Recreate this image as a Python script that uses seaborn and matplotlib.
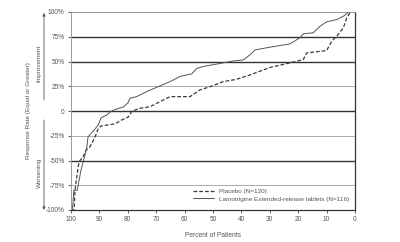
import matplotlib
matplotlib.use("Agg")
import matplotlib.pyplot as plt
import seaborn as sns
import pandas as pd

# ---- data ----
lam_x = [99.5, 99.0, 97.8, 96.5, 95.6, 94.5, 94.0, 92.7, 91.5, 90.4, 89.4, 87.4, 85.7, 84.0,
         81.6, 80.0, 79.2, 76.9, 73.4, 69.8, 65.1, 62.2, 61.6, 57.5, 55.7, 53.4, 47.5, 43.0,
         39.3, 37.0, 35.2, 29.9, 22.9, 19.4, 18.2, 14.7, 12.3, 10.0, 6.4, 4.1, 2.4]
lam_y = [-100, -80, -80, -60, -50, -38, -26, -22, -18, -14, -7, -4, 0, 2,
         4, 8, 13, 14.5, 19.5, 24, 29.7, 34, 35, 37.5, 43, 45, 48, 50.5,
         51.6, 56.7, 61.7, 64.5, 67.8, 74, 78, 79, 85.7, 90, 92.4, 95.8, 99.5]

pla_x = [98.9, 98.6, 97.4, 96.8, 95.7, 94.8, 93.3, 91.5, 90.3, 89.2, 86.9, 84.5, 82.1, 79.8,
         78.5, 75.7, 72.2, 68.7, 65.1, 58.1, 54.6, 51.0, 46.4, 41.7, 37.0, 29.9, 22.9, 18.2,
         17.0, 10.0, 8.2, 6.4, 4.1, 2.9, 1.8]
pla_y = [-100, -80, -55, -50, -46, -40, -36, -26, -17, -15, -14, -13, -9, -6,
         0, 2.7, 4.3, 9.4, 14.5, 14.5, 21.3, 24.6, 29.7, 32, 36.4, 44, 48.6, 52,
         58.7, 61, 70.5, 75.6, 84, 94, 99]

lam_label = "Lamotrigine Extended-release tablets (N=116)"
pla_label = "Placebo (N=120)"

x_ticks = [100, 90, 80, 70, 60, 50, 40, 30, 20, 10, 0]
y_ticks = [100, 75, 50, 25, 0, -25, -50, -75, -100]
y_tick_labels = ["100%", "75%", "50%", "25%", "0", "-25%", "-50%", "-75%", "-100%"]

# ---- figure ----
sns.set_style("white")
plt.rcParams['font.family'] = ['Liberation Sans', 'DejaVu Sans']
txt = "#555555"

fig = plt.figure(figsize=(4.0, 2.42), dpi=100)
ax = fig.add_axes([71/400, 1-210/242, 284/400, 198/242])

# grid lines
for yv in [75, 50, 0, -50]:
    ax.axhline(yv, color="#333333", lw=1.0, zorder=1)
for yv in [25, -25, -75]:
    ax.axhline(yv, color="#aaaaaa", lw=0.7, zorder=1)
ax.axhline(100, color="#999999", lw=0.7, zorder=1)

df_pla = pd.DataFrame({"x": pla_x, "y": pla_y})
df_lam = pd.DataFrame({"x": lam_x, "y": lam_y})
sns.lineplot(data=df_pla, x="x", y="y", ax=ax, estimator=None, sort=True,
             color="#3a3a3a", lw=0.9, linestyle=(0, (3, 1.6)), label=pla_label, zorder=3)
sns.lineplot(data=df_lam, x="x", y="y", ax=ax, estimator=None, sort=True,
             color="#555555", lw=0.7, label=lam_label, zorder=3)

ax.set_xlim(100, 0)
ax.set_ylim(-100, 100)
ax.set_xticks(x_ticks)
ax.set_xticklabels([str(v) for v in x_ticks])
ax.set_yticks(y_ticks)
ax.set_yticklabels(y_tick_labels)
ax.tick_params(axis="both", labelsize=4.7, length=2.5, width=0.6, pad=2,
               colors="#444444", labelcolor=txt, left=True, bottom=True)
ax.set_xlabel("Percent of Patients", fontsize=4.8, color=txt, labelpad=6)
ax.set_ylabel("")

for side in ["left", "top"]:
    ax.spines[side].set_color("#999999")
    ax.spines[side].set_linewidth(0.7)
for side in ["right", "bottom"]:
    ax.spines[side].set_color("#333333")
    ax.spines[side].set_linewidth(0.9)

leg = ax.legend(loc="lower right", bbox_to_anchor=(0.995, 0.02), frameon=False,
                fontsize=4.6, handlelength=3.2, handletextpad=0.8, labelspacing=0.35,
                borderpad=0.2)
for t in leg.get_texts():
    t.set_color(txt)

# side labels and arrows
fig.text(29/400, 1-111/242, "Response Rate (Equal or Greater)", rotation=90,
         ha="center", va="center", fontsize=4.6, color=txt)
fig.text(39/400, 1-63/242, "Improvement", rotation=90,
         ha="center", va="center", fontsize=4.6, color=txt)
fig.text(39/400, 1-173/242, "Worsening", rotation=90,
         ha="center", va="center", fontsize=4.6, color=txt)
ap = dict(arrowstyle="-|>", lw=0.6, color="#555555", mutation_scale=4, shrinkA=0, shrinkB=0)
ax.annotate("", xy=(44/400, 1-13/242), xytext=(44/400, 1-100/242),
            xycoords="figure fraction", textcoords="figure fraction", arrowprops=ap)
ax.annotate("", xy=(44/400, 1-210/242), xytext=(44/400, 1-120/242),
            xycoords="figure fraction", textcoords="figure fraction", arrowprops=ap)

fig.savefig("out.png", dpi=100)
